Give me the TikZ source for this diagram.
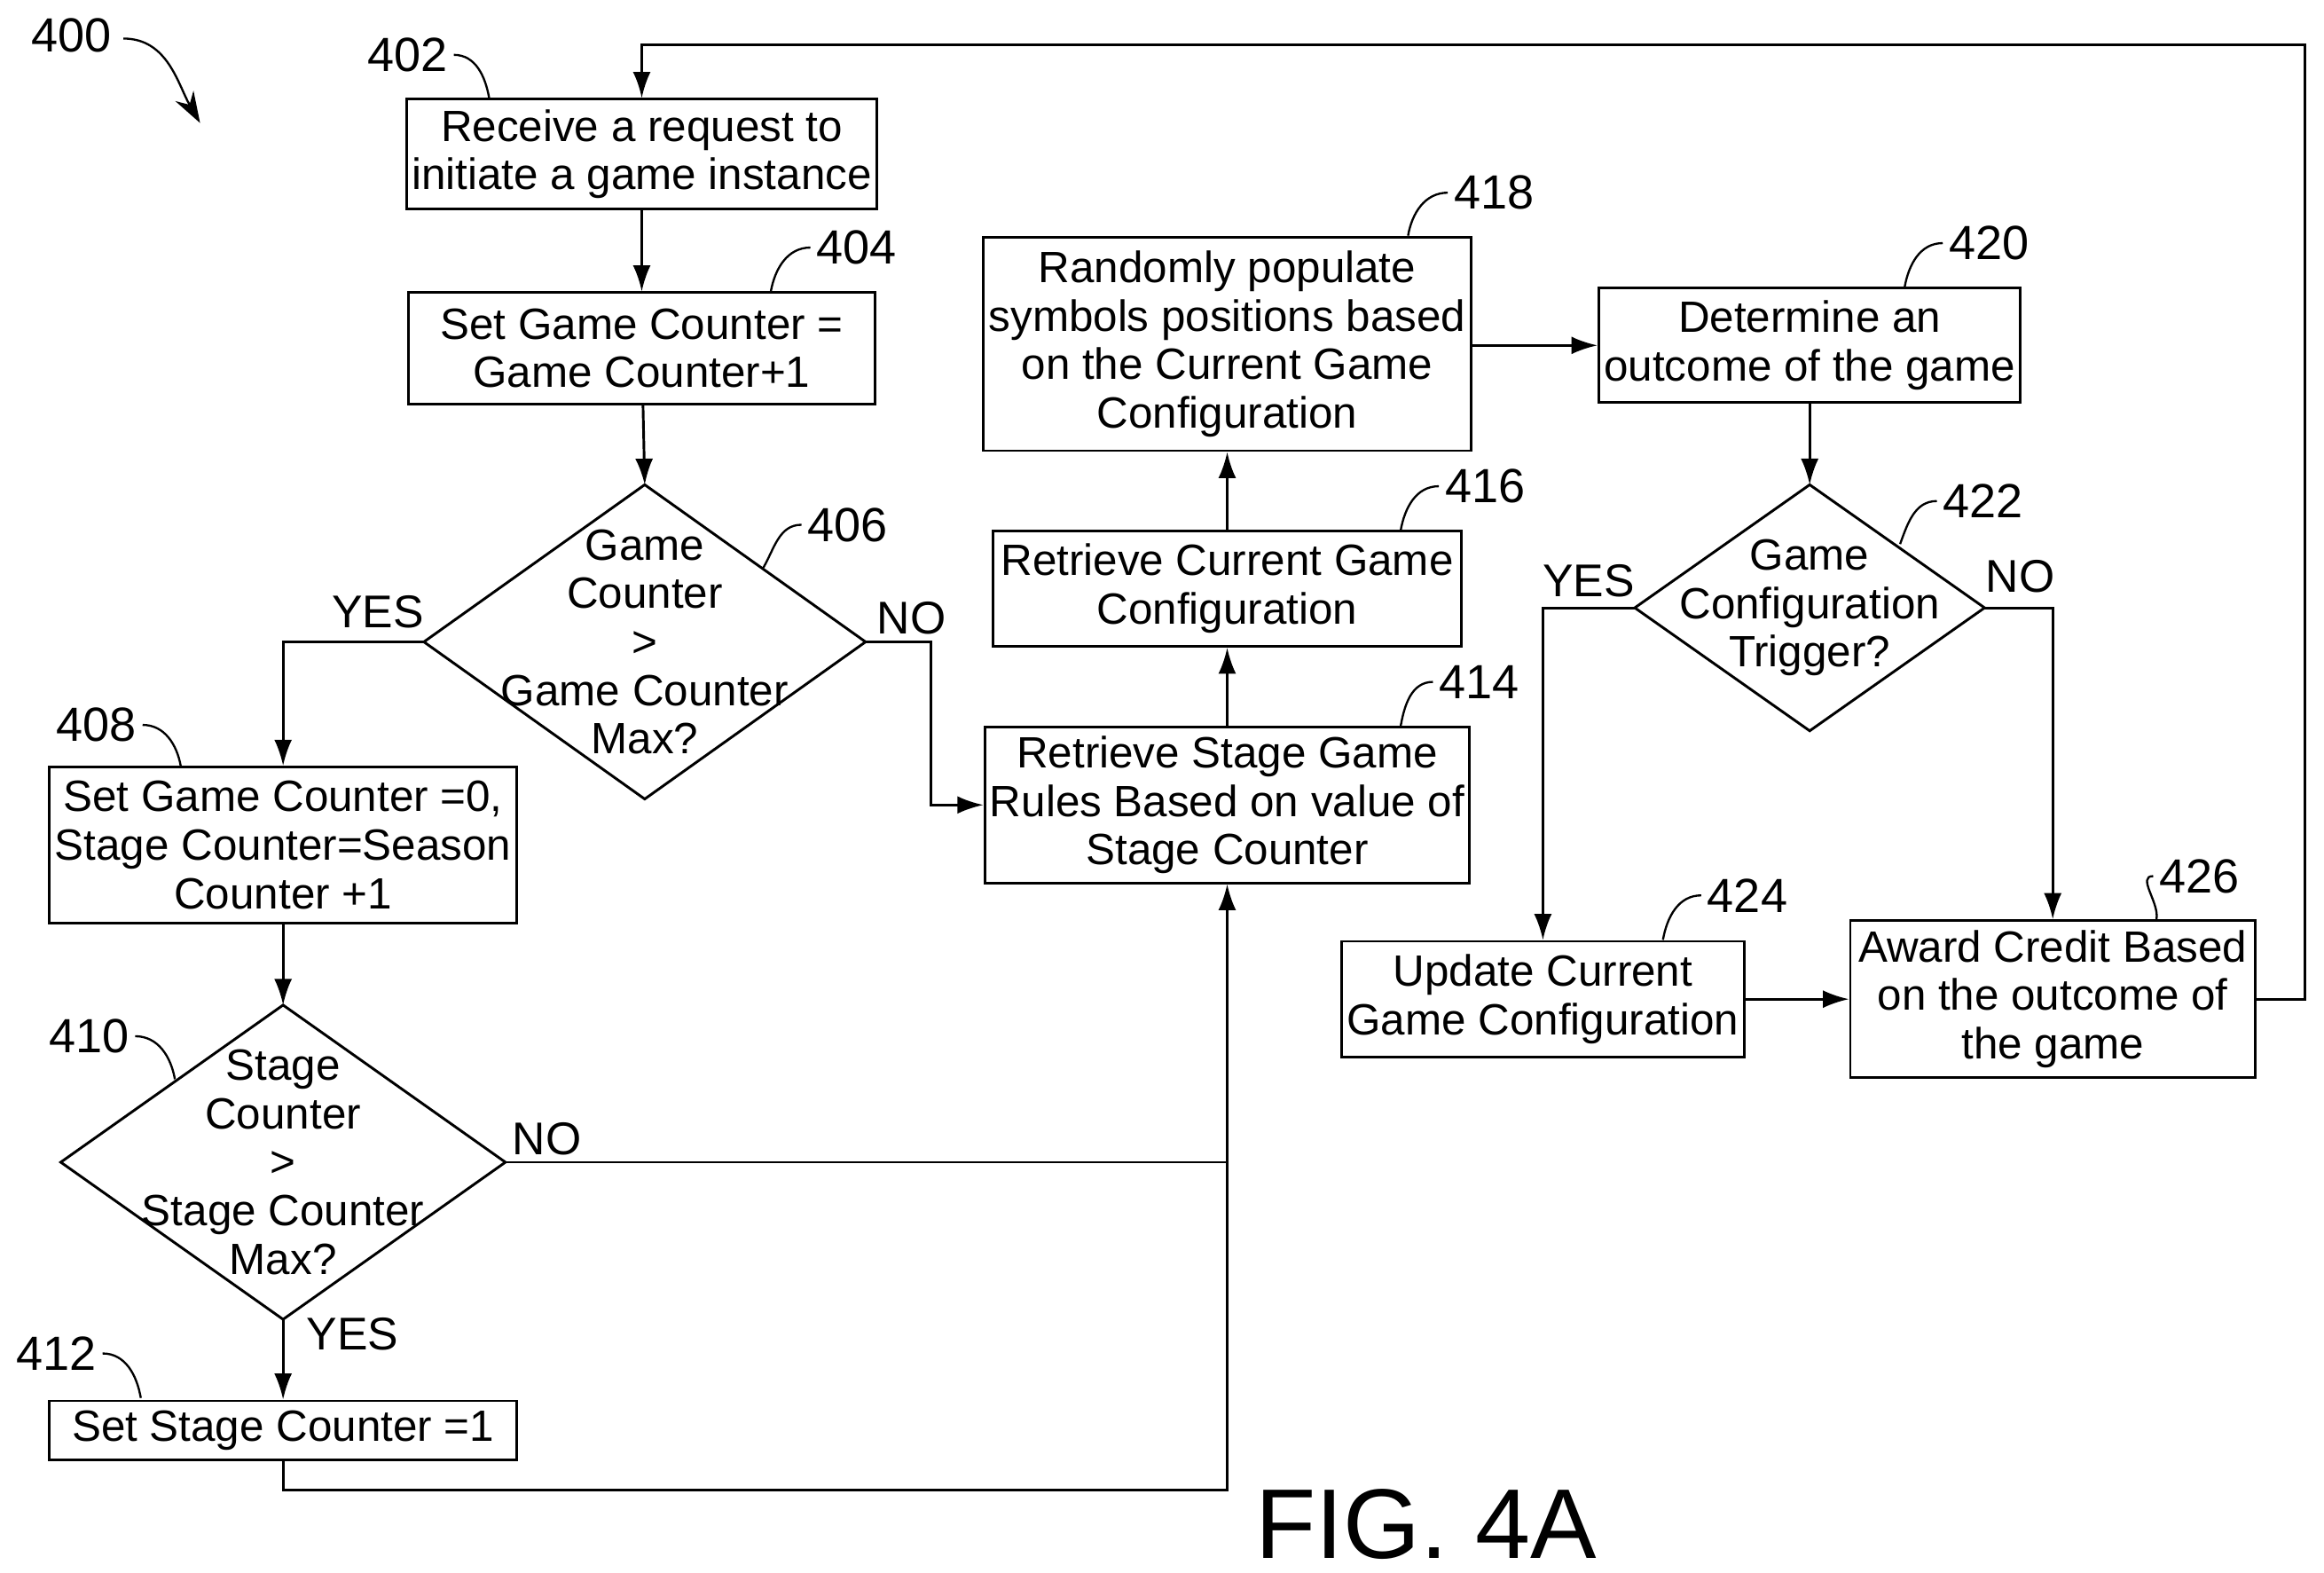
\documentclass[tikz,border=0pt]{standalone}
\usepackage{fontspec}
\setmainfont{Liberation Sans}
\usetikzlibrary{arrows.meta,positioning}
\tikzset{
    blk/.style={draw, line width=0.5pt, align=center, inner sep=1pt,
        font=\fontsize{8.4}{9.3}\selectfont},
    dtxt/.style={align=center, inner sep=0pt, font=\fontsize{8.4}{9.3}\selectfont},
    lbl/.style={inner sep=1pt, font=\fontsize{8.8}{10}\selectfont},
    ref/.style={inner sep=1pt, font=\fontsize{9.2}{10}\selectfont},
    flow/.style={draw, line width=0.5pt, -{Latex[length=5pt,width=3.4pt]}},
    lead/.style={draw, line width=0.4pt}
}
% diamond: name, x, y, half width, half height, text
\newcommand{\decide}[6]{%
  \node[dtxt] (#1) at (#2,#3) {#6};
  \coordinate (#1-w) at ($(#1)+(-#4,0)$);
  \coordinate (#1-e) at ($(#1)+(#4,0)$);
  \coordinate (#1-n) at ($(#1)+(0,-#5)$);
  \coordinate (#1-s) at ($(#1)+(0,#5)$);
  \draw[line width=0.5pt] (#1-w) -- (#1-n) -- (#1-e) -- (#1-s) -- cycle;}
\usetikzlibrary{calc}
\begin{document}
\begin{tikzpicture}[x=0.01cm, y=-0.01cm]
\useasboundingbox (0,0) rectangle (1568,1061);
% boxes
\node[blk, minimum width=3.15cm, minimum height=0.74cm] (recv) at (433,104) {Receive a request to\\initiate a game instance};
\node[blk, minimum width=3.15cm, minimum height=0.75cm] (setgc) at (433,235) {Set Game Counter =\\Game Counter+1};
\decide{gcmax}{435}{433}{149}{106}{Game\\Counter\\>\\Game Counter\\Max?}
\node[blk, minimum width=3.15cm, minimum height=1.05cm] (reset) at (191,570) {Set Game Counter =0,\\Stage Counter=Season\\Counter +1};
\decide{scmax}{191}{784}{150}{106}{Stage\\Counter\\>\\Stage Counter\\Max?}
\node[blk, minimum width=3.15cm, minimum height=0.40cm] (setsc) at (191,965) {Set Stage Counter =1};
\node[blk, minimum width=3.16cm, minimum height=1.05cm] (rules) at (828,543) {Retrieve Stage Game\\Rules Based on value of\\Stage Counter};
\node[blk, minimum width=3.16cm, minimum height=0.78cm] (getcfg) at (828,397) {Retrieve Current Game\\Configuration};
\node[blk, minimum width=3.16cm, minimum height=1.44cm] (popul) at (828,232) {Randomly populate\\symbols positions based\\on the Current Game\\Configuration};
\node[blk, minimum width=2.72cm, minimum height=0.77cm] (outc) at (1221,233) {Determine an\\outcome of the game};
\decide{trig}{1221}{410}{118}{83}{Game\\Configuration\\Trigger?}
\node[blk, minimum width=2.72cm, minimum height=0.78cm] (upd) at (1041,674) {Update Current\\Game Configuration};
\node[blk, minimum width=2.73cm, minimum height=1.06cm] (award) at (1385,674) {Award Credit Based\\on the outcome of\\the game};
% connectors
\draw[flow] (recv) -- (setgc);
\draw[flow] (setgc) -- (gcmax-n);
\draw[flow] (gcmax-w) -| (reset.north);
\draw[flow] (gcmax-e) -- (628,433) |- (rules.west);
\draw[flow] (reset) -- (scmax-n);
\draw[line width=0.5pt] (scmax-e) -- (828,784);
\draw[flow] (scmax-s) -- (setsc);
\draw[flow] (setsc.south) -- (191,1005) -| (rules.south);
\draw[flow] (rules) -- (getcfg);
\draw[flow] (getcfg) -- (popul);
\draw[flow] (popul.east |- outc.west) -- (outc.west);
\draw[flow] (outc) -- (trig-n);
\draw[flow] (trig-w) -| (upd.north);
\draw[flow] (trig-e) -| (award.north);
\draw[flow] (upd) -- (award);
\draw[flow] (award.east) -- (1555,674) |- (433,30) -- (recv.north);
% branch labels
\node[lbl] at (255,413) {YES};
\node[lbl] at (615,417) {NO};
\node[lbl] at (369,768) {NO};
\node[lbl] at (238,900) {YES};
\node[lbl] at (1072,392) {YES};
\node[lbl] at (1363,389) {NO};
% reference numerals
\node[ref] (r400) at (48,24) {400};
\draw[lead, -{Stealth[length=6pt,width=4pt]}] (r400.east) ++(4,2) to[out=0,in=120] (135,83);
\node[ref] (r402) at (275,37) {402};
\node[ref] (r404) at (578,167) {404};
\node[ref] (r406) at (572,354) {406};
\node[ref] (r408) at (65,489) {408};
\node[ref] (r410) at (60,699) {410};
\node[ref] (r412) at (38,913) {412};
\node[ref] (r414) at (998,460) {414};
\node[ref] (r416) at (1002,328) {416};
\node[ref] (r418) at (1008,130) {418};
\node[ref] (r420) at (1342,164) {420};
\node[ref] (r422) at (1338,338) {422};
\node[ref] (r424) at (1179,604) {424};
\node[ref] (r426) at (1484,591) {426};
\draw[lead] (r402.east) to[out=0,in=100] (330,66);
\draw[lead] (r404.west) to[out=180,in=80] (520,197);
\draw[lead] (r406.west) to[out=180,in=60] (515,383);
\draw[lead] (r408.east) to[out=0,in=100] (122,517);
\draw[lead] (r410.east) to[out=0,in=100] (118,728);
\draw[lead] (r412.east) to[out=0,in=100] (95,943);
\draw[lead] (r414.west) to[out=180,in=80] (945,490);
\draw[lead] (r416.west) to[out=180,in=80] (945,358);
\draw[lead] (r418.west) to[out=180,in=80] (950,159);
\draw[lead] (r420.west) to[out=180,in=80] (1285,194);
\draw[lead] (r422.west) to[out=180,in=70] (1282,367);
\draw[lead] (r424.west) to[out=180,in=80] (1122,634);
\draw[lead] (r426.west) to[out=180,in=80] (1455,620);
\node[inner sep=0pt, font=\fontsize{19}{20}\selectfont] (fig) at (962,1028) {FIG. 4A};
\end{tikzpicture}
\end{document}
